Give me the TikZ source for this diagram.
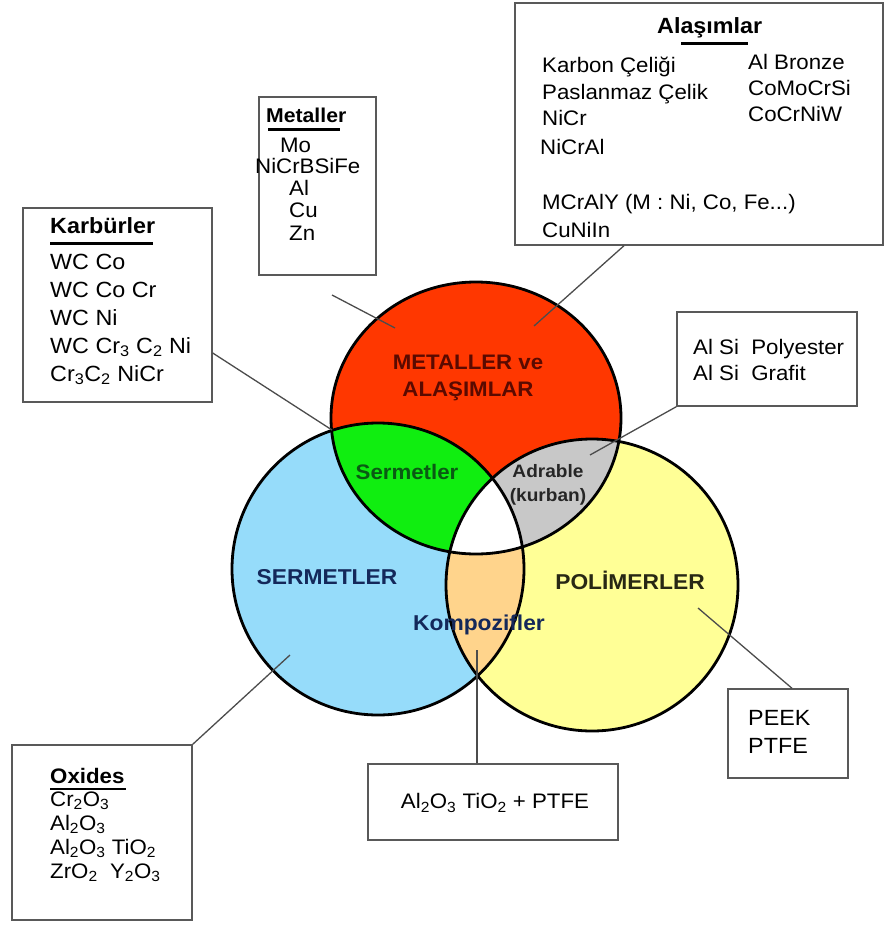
\documentclass[tikz,border=0pt]{standalone}
\usepackage{fontspec}
\setmainfont[FakeStretch=1.06]{Liberation Sans}
\usepackage{tikz}
\usetikzlibrary{positioning,calc}

\definecolor{kirmizi}{RGB}{255,55,0}
\definecolor{yesil}{RGB}{16,238,16}
\definecolor{gri}{RGB}{200,200,200}
\definecolor{mavi}{RGB}{150,220,250}
\definecolor{sari}{RGB}{255,255,150}
\definecolor{turuncu}{RGB}{255,212,140}
\definecolor{metalyazi}{RGB}{90,10,0}
\definecolor{sermetyazi}{RGB}{10,90,20}
\definecolor{laciyazi}{RGB}{20,40,90}
\definecolor{polyazi}{RGB}{40,40,20}

\def\R{(476,418) ellipse [x radius=145, y radius=136]}
\def\B{(378,569) circle [radius=146]}
\def\Y{(592,585) circle [radius=146]}

\begin{document}
\begin{tikzpicture}[x=1pt,y=-1pt,
  kutu/.style={draw=black!65,line width=1.4pt,inner sep=0pt},
  yazi/.style={font=\fontsize{21}{25}\selectfont,inner sep=0pt,anchor=base west},
  baslik/.style={font=\fontsize{21}{25}\selectfont\bfseries,inner sep=0pt,anchor=base west},
  etiket/.style={font=\fontsize{21.5}{27}\selectfont\bfseries,align=center,inner sep=0pt},
  cizgi/.style={draw=black!70,line width=1.3pt}]
  \useasboundingbox (0,0) rectangle (886,926);

  \fill[mavi] \B;
  \fill[sari] \Y;
  \fill[kirmizi] \R;
  \begin{scope}
    \clip \R;
    \fill[yesil] \B;
    \fill[gri] \Y;
  \end{scope}
  \begin{scope}
    \clip \B;
    \fill[turuncu] \Y;
  \end{scope}
  \begin{scope}
    \clip \R; \clip \B;
    \fill[white] \Y;
  \end{scope}
  \draw[line width=2.8pt] \R;
  \draw[line width=2.8pt] \B;
  \draw[line width=2.8pt] \Y;

  \node[etiket,text=metalyazi,font=\fontsize{21}{27}\selectfont\bfseries] (metalEt) at (468,378) {METALLER ve\\ALAŞIMLAR};
  \node[etiket,text=sermetyazi,font=\fontsize{21}{27}\selectfont\bfseries] (sermetlerEt) at (407,472) {Sermetler};
  \node[etiket,text=black!85,font=\fontsize{18}{24}\selectfont\bfseries] (adrEt) at (548,485) {Adrable\\(kurban)};
  \node[etiket,text=laciyazi] (sermetEt) at (327,577) {SERMETLER};
  \node[etiket,text=polyazi] (polEt) at (630,580) {POLİMERLER};
  \node[etiket,text=laciyazi] (kompEt) at (479,625) {Kompozifler};

  \node[kutu,minimum width=368pt,minimum height=242pt] (alasimKutu) at (699,124) {};
  \node[baslik,font=\fontsize{22}{26}\selectfont\bfseries] (alasimBaslik) at (657,33) {Alaşımlar};
  \draw[line width=3pt] (681,43) -- (748,43);
  \node[yazi] (alasim1) at (542,72) {Karbon Çeliği};
  \node[yazi] (alasim2) at (542,99) {Paslanmaz Çelik};
  \node[yazi] (alasim3) at (542,125) {NiCr};
  \node[yazi] (alasim4) at (540,154) {NiCrAl};
  \node[yazi] (alasim5) at (542,209) {MCrAlY (M : Ni, Co, Fe...)};
  \node[yazi] (alasim6) at (542,237) {CuNiIn};
  \node[yazi] (alasim7) at (748,69) {Al Bronze};
  \node[yazi] (alasim8) at (748,95) {CoMoCrSi};
  \node[yazi] (alasim9) at (748,121) {CoCrNiW};

  \node[kutu,minimum width=117pt,minimum height=178pt] (metalKutu) at (317.5,186) {};
  \node[baslik,font=\fontsize{20}{24}\selectfont\bfseries] (metalBaslik) at (266,122) {Metaller};
  \draw[line width=3pt] (268,129) -- (340,129);
  \node[yazi,font=\fontsize{21}{24}\selectfont] (metal1) at (280,152) {Mo};
  \node[yazi,font=\fontsize{21}{24}\selectfont] (metal2) at (255,173) {NiCrBSiFe};
  \node[yazi,font=\fontsize{21}{24}\selectfont] (metal3) at (289,195) {Al};
  \node[yazi,font=\fontsize{21}{24}\selectfont] (metal4) at (289,217) {Cu};
  \node[yazi,font=\fontsize{21}{24}\selectfont] (metal5) at (289,240) {Zn};

  \node[kutu,minimum width=189pt,minimum height=194pt] (karbKutu) at (117.5,305) {};
  \node[baslik,font=\fontsize{22}{26}\selectfont\bfseries] (karbBaslik) at (50,233) {Karbürler};
  \draw[line width=3pt] (karbBaslik.base west) ++(0,10) -- ++(103,0);
  \node[yazi,font=\fontsize{22}{26}\selectfont] (karb1) at (50,269) {WC Co};
  \node[yazi,font=\fontsize{22}{26}\selectfont] (karb2) at (50,297) {WC Co Cr};
  \node[yazi,font=\fontsize{22}{26}\selectfont] (karb3) at (50,325) {WC Ni};
  \node[yazi,font=\fontsize{22}{26}\selectfont] (karb4) at (50,353) {WC Cr\textsubscript{3} C\textsubscript{2} Ni};
  \node[yazi,font=\fontsize{22}{26}\selectfont] (karb5) at (50,381) {Cr\textsubscript{3}C\textsubscript{2} NiCr};

  \node[kutu,minimum width=180pt,minimum height=94pt] (alsiKutu) at (767,359) {};
  \node[yazi] (alsi1) at (693,354) {Al Si\ \ Polyester};
  \node[yazi] (alsi2) at (693,380) {Al Si\ \ Grafit};

  \node[kutu,minimum width=120pt,minimum height=89pt] (peekKutu) at (788,733.5) {};
  \node[yazi,font=\fontsize{22}{26}\selectfont] (peek1) at (748,725) {PEEK};
  \node[yazi,font=\fontsize{22}{26}\selectfont] (peek2) at (748,753) {PTFE};

  \node[kutu,minimum width=250pt,minimum height=76pt] (ptfeKutu) at (493,802) {};
  \node[font=\fontsize{21}{25}\selectfont,inner sep=0pt] (ptfeYazi) at (495,803)
    {Al\textsubscript{2}O\textsubscript{3} TiO\textsubscript{2} + PTFE};

  \node[kutu,minimum width=180pt,minimum height=175pt] (oksitKutu) at (102,832.5) {};
  \node[baslik] (oksitBaslik) at (50,783) {Oxides};
  \draw[line width=2.5pt] (50,789) -- (126,789);
  \node[yazi] (oksit1) at (50,806) {Cr\textsubscript{2}O\textsubscript{3}};
  \node[yazi] (oksit2) at (50,830) {Al\textsubscript{2}O\textsubscript{3}};
  \node[yazi] (oksit3) at (50,854) {Al\textsubscript{2}O\textsubscript{3} TiO\textsubscript{2}};
  \node[yazi] (oksit4) at (50,878) {ZrO\textsubscript{2}\ \ Y\textsubscript{2}O\textsubscript{3}};

  \coordinate (metalUc) at (332,295);
  \coordinate (metalIc) at (395,328);
  \coordinate (alasimIc) at (534,326);
  \coordinate (karbIc) at (332,430);
  \coordinate (adrIc) at (590,455);
  \coordinate (polIc) at (698,608);
  \coordinate (kompIc) at (477,650);
  \coordinate (oksitIc) at (290,655);
  \draw[cizgi] (metalUc) -- (metalIc);
  \draw[cizgi] ([xshift=-75pt]alasimKutu.south) -- (alasimIc);
  \draw[cizgi] ([yshift=-48pt]karbKutu.east) -- (karbIc);
  \draw[cizgi] (alsiKutu.south west) -- (adrIc);
  \draw[cizgi] ([xshift=4pt]peekKutu.north) -- (polIc);
  \draw[cizgi] (kompIc) -- (kompIc |- ptfeKutu.north);
  \draw[cizgi] (oksitKutu.north east) -- (oksitIc);
\end{tikzpicture}
\end{document}
